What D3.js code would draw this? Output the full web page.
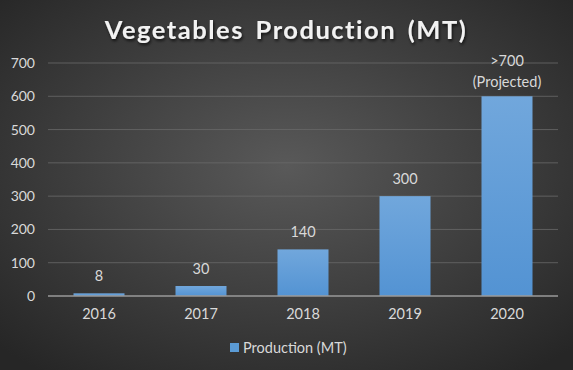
<!DOCTYPE html>
<html>
<head>
<meta charset="utf-8">
<script src="https://cdn.jsdelivr.net/npm/d3@7"></script>
<style>
  html, body { margin: 0; padding: 0; background: #262626; }
  svg { display: block; font-family: Lato, "Open Sans", sans-serif; }
</style>
</head>
<body>
<svg id="chart" width="573" height="370"></svg>
<script>
const years = ["2016", "2017", "2018", "2019", "2020"];
const production = [8, 30, 140, 300, 600];
const valueLabels = [["8"], ["30"], ["140"], ["300"], [">700", "(Projected)"]];
const yTicks = [0, 100, 200, 300, 400, 500, 600, 700];

const width = 573, height = 370;
const margin = { top: 63, right: 15, bottom: 74, left: 48 };

const svg = d3.select("#chart");
const defs = svg.append("defs");

// background, dark radial like the excel style
const bg = defs.append("radialGradient").attr("id", "bg")
  .attr("cx", "50%").attr("cy", "45%").attr("r", "70%");
bg.append("stop").attr("offset", "0").attr("stop-color", "#595959");
bg.append("stop").attr("offset", "1").attr("stop-color", "#262626");

const barGrad = defs.append("linearGradient").attr("id", "bar")
  .attr("x1", "0").attr("y1", "0").attr("x2", "0").attr("y2", "1");
barGrad.append("stop").attr("offset", "0").attr("stop-color", "#71a7dc");
barGrad.append("stop").attr("offset", "1").attr("stop-color", "#5393d3");

const shadow = defs.append("filter").attr("id", "shadow")
  .attr("x", "-10%").attr("y", "-30%").attr("width", "120%").attr("height", "160%");
shadow.append("feDropShadow").attr("dx", 1).attr("dy", 2)
  .attr("stdDeviation", 1.5).attr("flood-color", "#000").attr("flood-opacity", 0.7);

svg.append("rect").attr("width", width).attr("height", height).attr("fill", "url(#bg)");

svg.append("text")
  .attr("x", 286).attr("y", 39)
  .attr("text-anchor", "middle")
  .attr("fill", "#f2f2f2")
  .attr("font-size", 25.5).attr("font-weight", 700)
  .attr("letter-spacing", 1.5)
  .attr("word-spacing", 4)
  .attr("filter", "url(#shadow)")
  .text("Vegetables Production (MT)");

const x = d3.scaleBand()
  .domain(years)
  .range([margin.left, width - margin.right])
  .paddingInner(0.5).paddingOuter(0.25);

const y = d3.scaleLinear()
  .domain([0, 700])
  .range([height - margin.bottom, margin.top]);

// gridlines
svg.append("g")
  .selectAll("line")
  .data(yTicks.filter(d => d > 0))
  .join("line")
  .attr("x1", margin.left).attr("x2", width - margin.right)
  .attr("y1", d => y(d)).attr("y2", d => y(d))
  .attr("stroke", "#6a6a6a").attr("stroke-width", 0.8);

// y axis labels
const yAxis = svg.append("g")
  .attr("transform", `translate(${margin.left - 12},0)`)
  .call(d3.axisLeft(y).tickValues(yTicks).tickSize(0));
yAxis.select(".domain").remove();
yAxis.selectAll("text")
  .attr("fill", "#d9d9d9").attr("font-size", 14)
  .attr("font-family", "Lato, 'Open Sans', sans-serif")
  .attr("x", -1).attr("text-anchor", "end");

// bars
svg.append("g")
  .selectAll("rect")
  .data(production)
  .join("rect")
  .attr("x", (d, i) => x(years[i]))
  .attr("y", d => y(d))
  .attr("width", x.bandwidth())
  .attr("height", d => y(0) - y(d))
  .attr("fill", "url(#bar)");

// x axis
const xAxis = svg.append("g")
  .attr("transform", `translate(0,${y(0)})`)
  .call(d3.axisBottom(x).tickSize(0).tickPadding(13));
xAxis.select(".domain").attr("stroke", "#9a9a9a").attr("stroke-width", 1.3)
  .attr("d", `M${margin.left},0H${width - margin.right}`);
xAxis.selectAll("text")
  .attr("fill", "#d9d9d9").attr("font-size", 14.5)
  .attr("font-family", "Lato, 'Open Sans', sans-serif");

// value labels
const labels = svg.append("g")
  .selectAll("text")
  .data(production)
  .join("text")
  .attr("text-anchor", "middle")
  .attr("fill", "#d9d9d9").attr("font-size", 14.5);
labels.each(function (d, i) {
  const lines = valueLabels[i];
  const cx = x(years[i]) + x.bandwidth() / 2;
  const offset = lines.length > 1 ? 9 : 12;
  const base = y(d) - offset - (lines.length - 1) * 21;
  d3.select(this).selectAll("tspan")
    .data(lines)
    .join("tspan")
    .attr("x", cx)
    .attr("y", (t, j) => base + j * 21)
    .text(t => t);
});

// legend
const legend = svg.append("g").attr("transform", "translate(230,343)");
legend.append("rect").attr("width", 9).attr("height", 9).attr("fill", "#5b9bd5");
legend.append("text").attr("x", 13).attr("y", 9.5)
  .attr("fill", "#d9d9d9").attr("font-size", 14.5)
  .text("Production (MT)");
</script>
</body>
</html>
